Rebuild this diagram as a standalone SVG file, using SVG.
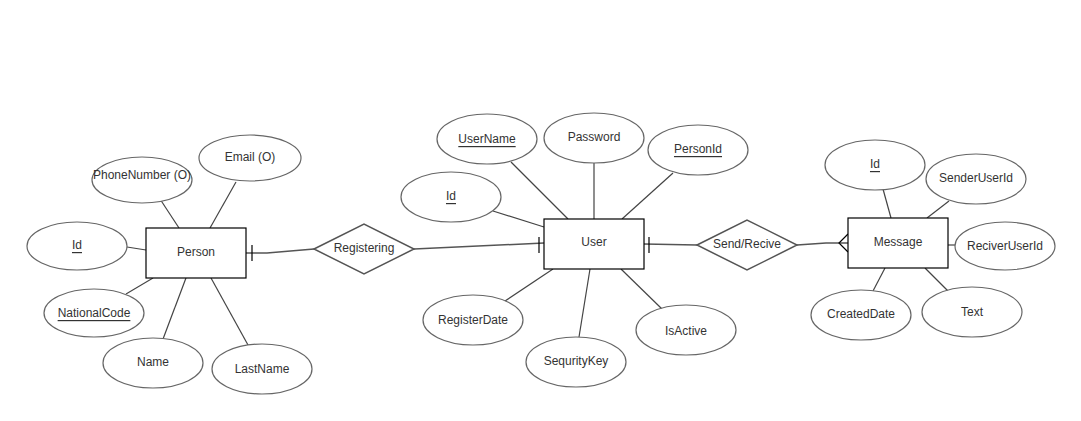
<svg xmlns="http://www.w3.org/2000/svg" width="1081" height="421" viewBox="0 0 1081 421">
<style>
.bg{fill:#ffffff}
.ent{fill:#ffffff;stroke:#000000;stroke-width:1.2}
.att{fill:#ffffff;stroke:#666666;stroke-width:1.2}
.rel{fill:#ffffff;stroke:#555555;stroke-width:1.5}
.ln{fill:none;stroke:#444444;stroke-width:1.2}
.cn{fill:none;stroke:#555555;stroke-width:1.5}
.tk{fill:none;stroke:#000000;stroke-width:1.2}
text{font-family:"Liberation Sans",Arial,sans-serif;font-size:12px;fill:#333333;text-anchor:middle;dominant-baseline:central}
.u{text-decoration:underline}
</style>
<rect class="bg" x="0" y="0" width="1081" height="421"/>
<g id="connectors">
<!-- Person attributes -->
<line class="ln" x1="127" y1="247" x2="146" y2="250"/>
<line class="ln" x1="160" y1="199" x2="179" y2="228"/>
<line class="ln" x1="236" y1="182" x2="210" y2="228"/>
<line class="ln" x1="126" y1="294" x2="153" y2="278"/>
<line class="ln" x1="163" y1="339" x2="186" y2="278"/>
<line class="ln" x1="248" y1="345" x2="211" y2="278"/>
<!-- User attributes -->
<line class="ln" x1="511" y1="162" x2="568" y2="219"/>
<line class="ln" x1="594" y1="163" x2="594" y2="219"/>
<line class="ln" x1="673" y1="173" x2="622" y2="219"/>
<line class="ln" x1="493" y1="211" x2="544" y2="227"/>
<line class="ln" x1="505" y1="301" x2="553" y2="269"/>
<line class="ln" x1="579" y1="337" x2="590" y2="269"/>
<line class="ln" x1="662" y1="309" x2="621" y2="269"/>
<!-- Message attributes -->
<line class="ln" x1="883" y1="189" x2="891" y2="218"/>
<line class="ln" x1="949" y1="201" x2="927" y2="218"/>
<line class="ln" x1="948" y1="245" x2="955" y2="245"/>
<line class="ln" x1="873" y1="291" x2="885" y2="268"/>
<line class="ln" x1="948" y1="291" x2="925" y2="268"/>
<!-- Relationships -->
<path class="cn" d="M246,253 L267,253 L314,249"/>
<line class="tk" x1="252" y1="245" x2="252" y2="261"/>
<path class="cn" d="M414,249 L544,243"/>
<line class="tk" x1="539" y1="237" x2="539" y2="253"/>
<path class="cn" d="M644,244 L697,245"/>
<line class="tk" x1="649" y1="237" x2="649" y2="253"/>
<path class="cn" d="M797,245 L826,243 L848,243"/>
<path class="tk" d="M848,234 L839,243 L848,252"/>
</g>
<g id="person"><rect class="ent" x="146" y="228" width="100" height="50"/><text x="196" y="252">Person</text></g>
<g id="person-id"><ellipse class="att" cx="77" cy="246" rx="50" ry="24"/><text class="u" x="77" y="245">Id</text></g>
<g id="person-phone"><ellipse class="att" cx="142" cy="180" rx="50" ry="23"/><text x="142" y="175">PhoneNumber (O)</text></g>
<g id="person-email"><ellipse class="att" cx="250" cy="158" rx="51" ry="23"/><text x="250" y="157">Email (O)</text></g>
<g id="person-nationalcode"><ellipse class="att" cx="94" cy="313" rx="50" ry="24"/><text class="u" x="94" y="313">NationalCode</text></g>
<g id="person-name"><ellipse class="att" cx="153" cy="363" rx="50" ry="25"/><text x="153" y="362">Name</text></g>
<g id="person-lastname"><ellipse class="att" cx="262" cy="369" rx="50" ry="25"/><text x="262" y="369">LastName</text></g>
<g id="registering"><polygon class="rel" points="314,249 364,224 414,249 364,274"/><text x="364" y="248">Registering</text></g>
<g id="user"><rect class="ent" x="544" y="219" width="100" height="50"/><text x="594" y="242">User</text></g>
<g id="user-username"><ellipse class="att" cx="487" cy="139" rx="50" ry="25"/><text class="u" x="487" y="139">UserName</text></g>
<g id="user-password"><ellipse class="att" cx="594" cy="138" rx="50" ry="25"/><text x="594" y="137">Password</text></g>
<g id="user-personid"><ellipse class="att" cx="698" cy="150" rx="50" ry="25"/><text class="u" x="698" y="149">PersonId</text></g>
<g id="user-id"><ellipse class="att" cx="451" cy="197" rx="50" ry="25"/><text class="u" x="451" y="196">Id</text></g>
<g id="user-registerdate"><ellipse class="att" cx="473" cy="320" rx="50" ry="25"/><text x="473" y="320">RegisterDate</text></g>
<g id="user-sequritykey"><ellipse class="att" cx="576" cy="362" rx="50" ry="25"/><text x="576" y="361">SequrityKey</text></g>
<g id="user-isactive"><ellipse class="att" cx="686" cy="330" rx="50" ry="25"/><text x="686" y="331">IsActive</text></g>
<g id="send-recive"><polygon class="rel" points="697,245 747,220 797,245 747,270"/><text x="747" y="244">Send/Recive</text></g>
<g id="message"><rect class="ent" x="848" y="218" width="100" height="50"/><text x="898" y="242">Message</text></g>
<g id="message-id"><ellipse class="att" cx="875" cy="165" rx="50" ry="25"/><text class="u" x="875" y="164">Id</text></g>
<g id="message-senderuserid"><ellipse class="att" cx="976" cy="179" rx="50" ry="25"/><text x="976" y="178">SenderUserId</text></g>
<g id="message-reciveruserid"><ellipse class="att" cx="1005" cy="246" rx="50" ry="24"/><text x="1005" y="246">ReciverUserId</text></g>
<g id="message-createddate"><ellipse class="att" cx="861" cy="315" rx="50" ry="25"/><text x="861" y="314">CreatedDate</text></g>
<g id="message-text"><ellipse class="att" cx="972" cy="312" rx="50" ry="25"/><text x="972" y="312">Text</text></g>
</svg>
